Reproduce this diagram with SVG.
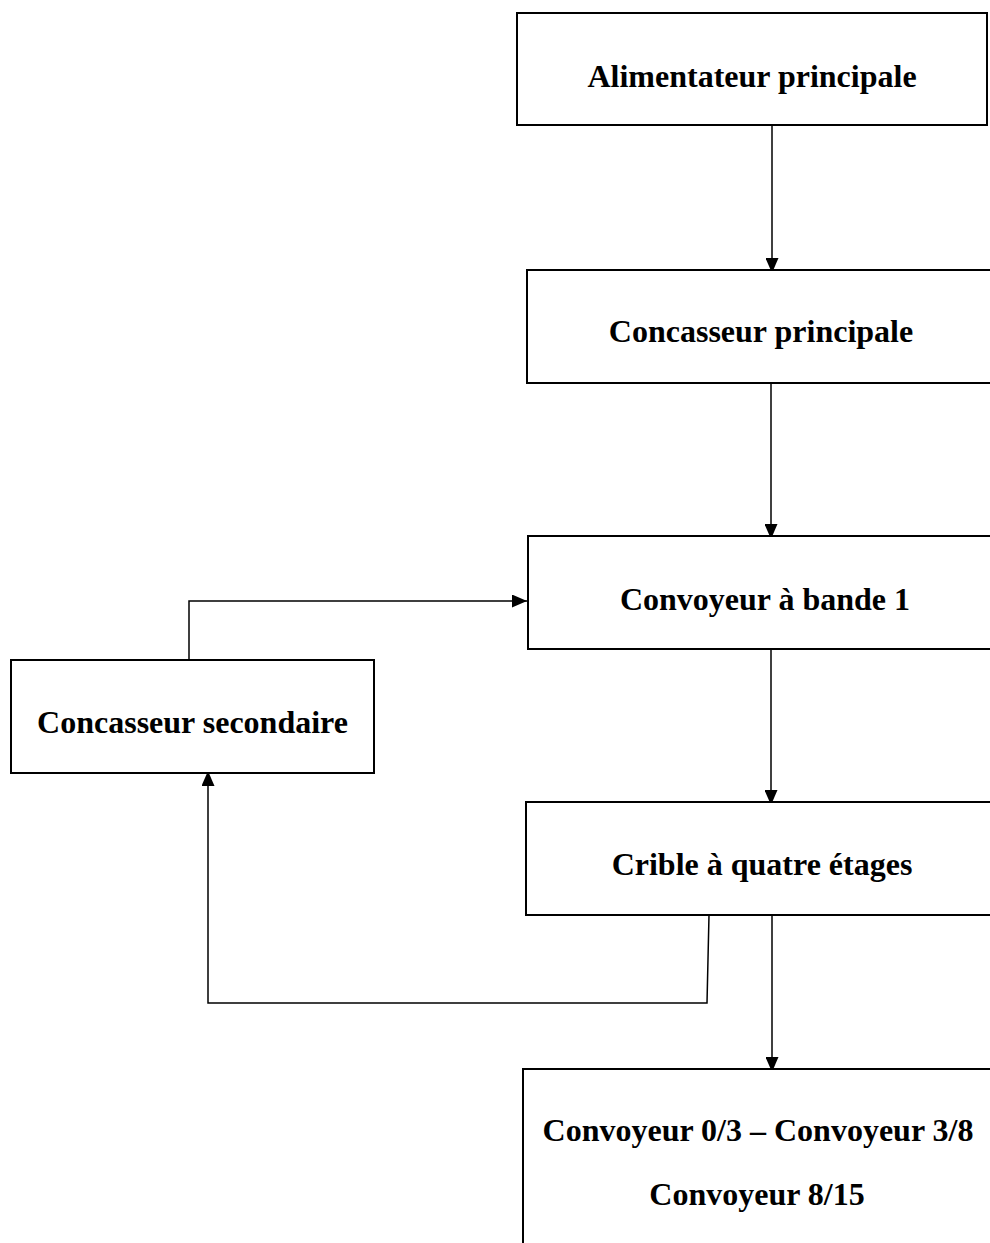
<svg xmlns="http://www.w3.org/2000/svg" width="990" height="1243" viewBox="0 0 990 1243">
  <style>
    .box { fill: #ffffff; stroke: #000000; stroke-width: 2; }
    .label { font-family: "Liberation Serif", "Times New Roman", serif; font-weight: bold; font-size: 32px; fill: #000000; text-anchor: middle; }
    .link { fill: none; stroke: #000000; stroke-width: 1.5; }
  </style>
  <defs>
    <marker id="arrow" markerWidth="15" markerHeight="13" refX="15" refY="6.5" orient="auto" markerUnits="userSpaceOnUse">
      <path d="M0,0 L15,6.5 L0,13 Z" fill="#000000"/>
    </marker>
  </defs>

  <rect width="990" height="1243" fill="#ffffff"/>

  <g id="connectors">
    <line class="link" x1="772" y1="125" x2="772" y2="273" marker-end="url(#arrow)"/>
    <line class="link" x1="771" y1="383" x2="771" y2="539" marker-end="url(#arrow)"/>
    <line class="link" x1="771" y1="649" x2="771" y2="805" marker-end="url(#arrow)"/>
    <line class="link" x1="772" y1="915" x2="772" y2="1072" marker-end="url(#arrow)"/>
    <polyline class="link" points="709,915 707,1003 208,1003 208,771" marker-end="url(#arrow)"/>
    <polyline class="link" points="189,660 189,601 527,601" marker-end="url(#arrow)"/>
  </g>

  <g id="alimentateur-principale">
    <rect class="box" x="517" y="13" width="470" height="112"/>
    <text class="label" x="752" y="87">Alimentateur principale</text>
  </g>

  <g id="concasseur-principale">
    <rect class="box" x="527" y="270" width="470" height="113"/>
    <text class="label" x="761" y="342">Concasseur principale</text>
  </g>

  <g id="convoyeur-bande-1">
    <rect class="box" x="528" y="536" width="475" height="113"/>
    <text class="label" x="765" y="610">Convoyeur à bande 1</text>
  </g>

  <g id="concasseur-secondaire">
    <rect class="box" x="11" y="660" width="363" height="113"/>
    <text class="label" x="192.5" y="733">Concasseur secondaire</text>
  </g>

  <g id="crible-quatre-etages">
    <rect class="box" x="526" y="802" width="472" height="113"/>
    <text class="label" x="762" y="875">Crible à quatre étages</text>
  </g>

  <g id="convoyeurs-sortie">
    <rect class="box" x="523" y="1069" width="472" height="190"/>
    <text class="label" x="758" y="1141">Convoyeur 0/3 – Convoyeur 3/8</text>
    <text class="label" x="757" y="1205">Convoyeur 8/15</text>
  </g>
</svg>
